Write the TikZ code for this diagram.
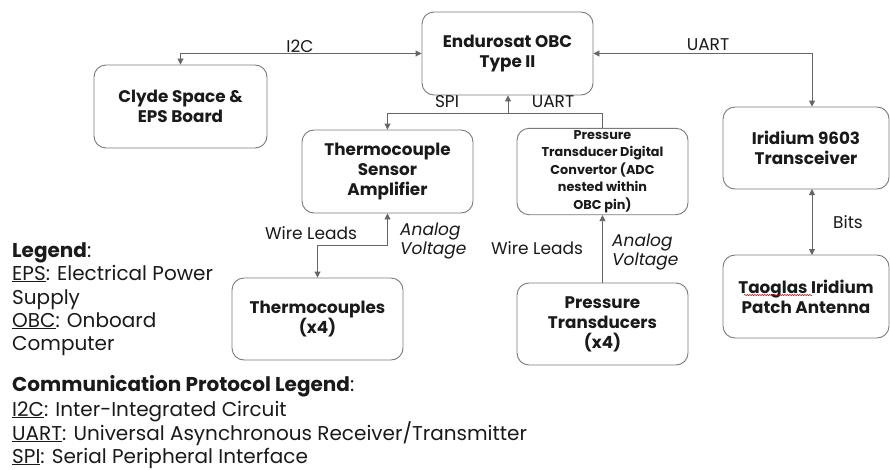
\documentclass[tikz,border=0pt]{standalone}
\usepackage{fontspec}
\setmainfont{Poppins}
\usetikzlibrary{arrows.meta,decorations.pathmorphing}
\definecolor{linec}{HTML}{666666}
\definecolor{boxc}{HTML}{7A7A7A}
\definecolor{txt}{HTML}{1A1A1A}
\tikzset{
  box/.style={draw=boxc, line width=0.9pt, rounded corners=12pt, minimum width=171pt, minimum height=83pt, align=center, text=txt, inner sep=2pt, font=\bfseries\fontsize{16.8}{20}\selectfont},
  conn/.style={draw=linec, line width=0.9pt, arrows={-}},
  tip/.style={-{Triangle[length=6pt,width=6pt]}},
  tips/.style={{Triangle[length=6pt,width=6pt]}-{Triangle[length=6pt,width=6pt]}},
  lbl/.style={text=txt, font=\fontsize{17}{20}\selectfont, inner sep=0pt},
  ilbl/.style={text=txt, font=\itshape\fontsize{17}{19}\selectfont, inner sep=0pt, align=left, anchor=west},
  leg/.style={text=txt, font=\fontsize{20}{23}\selectfont, inner sep=0pt, anchor=base west}
}
\begin{document}
\begin{tikzpicture}[x=1pt,y=-1pt]
\useasboundingbox[fill=white] (0,0) rectangle (890,469);
% boxes
\node[box] (obc) at (507.5,53.5) {Endurosat OBC\\Type II};
\node[box, minimum width=173pt] (clyde) at (180.5,106.5) {Clyde Space \&\\EPS Board};
\node[box] (tsa) at (387.5,171.5) {Thermocouple\\Sensor\\Amplifier};
\node[box, font=\bfseries\fontsize{12.8}{17.5}\selectfont] (ptdc) at (602.5,171.5) {Pressure\\Transducer Digital\\Convertor (ADC\\nested within\\OBC pin)};
\node[box, minimum width=166pt, minimum height=82pt] (irid) at (806,148) {Iridium 9603\\Transceiver};
\node[box, minimum width=166pt] (tao) at (806,296.5) {Taoglas Iridium\\Patch Antenna};
\node[box, minimum height=82pt] (tc) at (317.5,319) {Thermocouples\\(x4)};
\node[box, minimum height=82pt] (pt) at (602.5,324) {Pressure\\Transducers\\(x4)};
% coordinates
\coordinate (uartx) at (812,53.5);
\coordinate (bus) at (0,113);
\coordinate (busup) at (508,113);
\coordinate (tcbend) at (0,245);
\coordinate (iridb) at (812,189);
\coordinate (taot) at (812,255);
\coordinate (ptt) at (602.5,283);
% connectors
\draw[conn,tips] (clyde.north) -- (clyde.north |- obc.west) -- (obc.west);
\draw[conn,tips] (obc.east) -- (uartx) -- (uartx |- irid.north);
\draw[conn,tips] (iridb) -- (taot);
\draw[conn,tip] (ptdc.north) -- (ptdc.north |- bus) -- (tsa.north |- bus) -- (tsa.north);
\draw[conn,tip] (busup) -- (busup |- obc.south);
\draw[conn,tips] (tsa.south) -- (tsa.south |- tcbend) -- (tc.north |- tcbend) -- (tc.north);
\draw[conn,tip] (ptt) -- (ptdc.south);
% labels
\node[lbl] (l-i2c) at (300,46) {I2C};
\node[lbl] (l-uart1) at (708,45) {UART};
\node[lbl] (l-spi) at (447,102) {SPI};
\node[lbl] (l-uart2) at (553,102) {UART};
\node[lbl] (l-bits) at (848,222) {Bits};
\node[lbl] (l-wl1) at (311,233) {Wire Leads};
\node[ilbl] (l-av1) at (400,241) {Analog\\Voltage};
\node[lbl] (l-wl2) at (537,248) {Wire Leads};
\node[ilbl] (l-av2) at (612,252) {Analog\\Voltage};
% spell-check squiggle
\draw[red!80!black, line width=0.5pt, decorate, decoration={snake, amplitude=0.6pt, segment length=2.5pt}] (744,295) -- (812,295);
% legends
\node[leg] (g1) at (12,257) {\textbf{Legend}:};
\node[leg] (g2) at (12,280) {\underline{EPS}: Electrical Power};
\node[leg] (g3) at (12,304) {Supply};
\node[leg] (g4) at (12,327) {\underline{OBC}: Onboard};
\node[leg] (g5) at (12,350) {Computer};
\node[leg] (c1) at (12,391) {\textbf{Communication Protocol Legend}:};
\node[leg] (c2) at (12,416) {\underline{I2C}: Inter-Integrated Circuit};
\node[leg] (c3) at (12,440) {\underline{UART}: Universal Asynchronous Receiver/Transmitter};
\node[leg] (c4) at (12,463) {\underline{SPI}: Serial Peripheral Interface};
\end{tikzpicture}
\end{document}
